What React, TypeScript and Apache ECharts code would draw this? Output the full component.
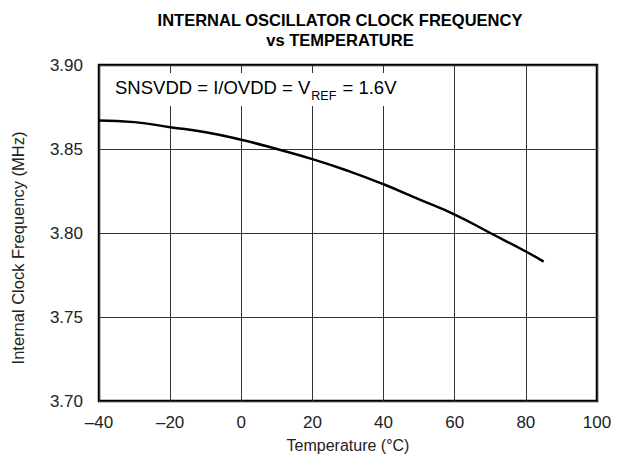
import React, { useEffect, useRef } from "react";
import * as echarts from "echarts";

const temperatures = [-40, -30, -20, -10, 0, 10, 20, 30, 40, 50, 60, 70, 80, 85];
const frequencies = [3.867, 3.866, 3.863, 3.86, 3.8555, 3.85, 3.844, 3.837, 3.829, 3.82, 3.811, 3.8, 3.789, 3.783];
const xTicks = [-40, -20, 0, 20, 40, 60, 80, 100];
const yTicks = [3.7, 3.75, 3.8, 3.85, 3.9];

const FONT = "'Liberation Sans', Arial, Helvetica, sans-serif";

export default function App() {
  const ref = useRef<HTMLDivElement>(null);
  useEffect(() => {
    if (!ref.current) return;
    const chart = echarts.init(ref.current, null, { renderer: "svg" });
    chart.setOption({
      animation: false,
      backgroundColor: "#fff",
      title: {
        text: "INTERNAL OSCILLATOR CLOCK FREQUENCY\nvs TEMPERATURE",
        left: 335,
        textAlign: "center",
        top: 5,
        textStyle: { fontFamily: FONT, fontSize: 16.5, fontWeight: "bold", color: "#000", lineHeight: 20 },
      },
      grid: {
        left: 99,
        right: 26,
        top: 65,
        bottom: 70,
        show: true,
        borderColor: "#000",
        borderWidth: 2.5,
        backgroundColor: "transparent",
      },
      xAxis: {
        type: "value",
        min: xTicks[0],
        max: xTicks[xTicks.length - 1],
        interval: 20,
        name: "Temperature (°C)",
        nameLocation: "middle",
        nameGap: 36,
        nameTextStyle: { fontFamily: FONT, fontSize: 16, color: "#222" },
        axisLine: { show: false },
        axisTick: { show: false },
        axisLabel: {
          margin: 13,
          fontFamily: FONT,
          fontSize: 17,
          color: "#222",
          formatter: (v: number) => (v < 0 ? "\u2013" + Math.abs(v) : String(v)),
        },
        splitLine: { show: true, lineStyle: { color: "#333", width: 1 } },
      },
      yAxis: {
        type: "value",
        min: yTicks[0],
        max: yTicks[yTicks.length - 1],
        interval: 0.05,
        name: "Internal Clock Frequency (MHz)",
        nameLocation: "middle",
        nameGap: 73,
        nameTextStyle: { fontFamily: FONT, fontSize: 16.5, color: "#222", padding: [0, 30, 0, 0] },
        axisLine: { show: false },
        axisTick: { show: false },
        axisLabel: {
          margin: 16,
          fontFamily: FONT,
          fontSize: 17,
          color: "#222",
          formatter: (v: number) => v.toFixed(2),
        },
        splitLine: { show: true, lineStyle: { color: "#333", width: 1 } },
      },
      graphic: [
        {
          type: "rect",
          shape: { x: 104, y: 73, width: 296, height: 33 },
          style: { fill: "#fff" },
          z: 10,
        },
        {
          type: "text",
          x: 115,
          y: 78,
          z: 11,
          style: {
            text: "{a|SNSVDD = I/OVDD = V}{s|REF}{a| = 1.6V}",
            rich: {
              a: { fontFamily: FONT, fontSize: 18.5, color: "#222", lineHeight: 20, verticalAlign: "top" },
              s: { fontFamily: FONT, fontSize: 12.5, color: "#222", lineHeight: 24, verticalAlign: "bottom", padding: [0, 1, 0, 1] },
            },
          },
        },
      ],
      series: [
        {
          type: "line",
          data: temperatures.map((t, i) => [t, frequencies[i]]),
          smooth: true,
          showSymbol: false,
          lineStyle: { color: "#000", width: 2.5 },
          z: 5,
        },
      ],
    });
    return () => chart.dispose();
  }, []);
  return <div ref={ref} style={{ position: "fixed", left: 0, top: 0, width: 623, height: 471 }} />;
}
